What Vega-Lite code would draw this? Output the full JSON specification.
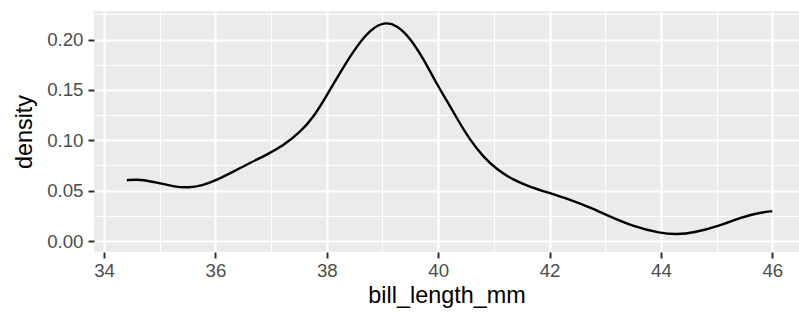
{
  "$schema": "https://vega.github.io/schema/vega-lite/v6.json",
  "autosize": {"type": "none"},
  "width": 705,
  "height": 241,
  "padding": {"left": 94, "top": 11, "right": 0, "bottom": 60},
  "background": "white",
  "config": {
    "view": {"fill": "#EBEBEB", "stroke": null},
    "font": "Liberation Sans",
    "axis": {
      "domain": false,
      "gridColor": "white",
      "tickColor": "#333333",
      "tickWidth": 2,
      "tickSize": 6,
      "labelColor": "#4D4D4D",
      "labelFontSize": 18.7,
      "labelFont": "Liberation Sans",
      "titleFont": "Liberation Sans",
      "titleFontSize": 23.4,
      "titleFontWeight": "normal",
      "titleColor": "black"
    }
  },
  "data": {
    "values": [
      {"bill_length_mm": 34.41, "density": 0.0604},
      {"bill_length_mm": 34.65, "density": 0.0613},
      {"bill_length_mm": 34.95, "density": 0.0582},
      {"bill_length_mm": 35.24, "density": 0.0541},
      {"bill_length_mm": 35.52, "density": 0.0528},
      {"bill_length_mm": 35.76, "density": 0.0550},
      {"bill_length_mm": 36.02, "density": 0.0605},
      {"bill_length_mm": 36.32, "density": 0.0688},
      {"bill_length_mm": 36.62, "density": 0.0776},
      {"bill_length_mm": 36.92, "density": 0.0856},
      {"bill_length_mm": 37.22, "density": 0.0948},
      {"bill_length_mm": 37.50, "density": 0.1070},
      {"bill_length_mm": 37.76, "density": 0.1225},
      {"bill_length_mm": 38.02, "density": 0.1465},
      {"bill_length_mm": 38.30, "density": 0.1730},
      {"bill_length_mm": 38.54, "density": 0.1935},
      {"bill_length_mm": 38.78, "density": 0.2098},
      {"bill_length_mm": 39.03, "density": 0.2177},
      {"bill_length_mm": 39.26, "density": 0.2145},
      {"bill_length_mm": 39.50, "density": 0.2015},
      {"bill_length_mm": 39.74, "density": 0.1805},
      {"bill_length_mm": 39.98, "density": 0.1555},
      {"bill_length_mm": 40.16, "density": 0.1390},
      {"bill_length_mm": 40.34, "density": 0.1215},
      {"bill_length_mm": 40.57, "density": 0.1005},
      {"bill_length_mm": 40.81, "density": 0.0835},
      {"bill_length_mm": 41.05, "density": 0.0712},
      {"bill_length_mm": 41.35, "density": 0.0605},
      {"bill_length_mm": 41.65, "density": 0.0538},
      {"bill_length_mm": 42.01, "density": 0.0475},
      {"bill_length_mm": 42.37, "density": 0.0410},
      {"bill_length_mm": 42.72, "density": 0.0335},
      {"bill_length_mm": 43.05, "density": 0.0252},
      {"bill_length_mm": 43.51, "density": 0.0143},
      {"bill_length_mm": 43.99, "density": 0.0077},
      {"bill_length_mm": 44.29, "density": 0.0065},
      {"bill_length_mm": 44.59, "density": 0.0083},
      {"bill_length_mm": 45.01, "density": 0.0143},
      {"bill_length_mm": 45.43, "density": 0.0233},
      {"bill_length_mm": 45.79, "density": 0.0285},
      {"bill_length_mm": 46.00, "density": 0.0296}
    ]
  },
  "layer": [
    {
      "mark": {"type": "line", "strokeOpacity": 0},
      "encoding": {
        "x": {
          "field": "bill_length_mm", "type": "quantitative",
          "scale": {"domain": [33.82, 46.48], "nice": false, "zero": false},
          "axis": {"orient": "top", "values": [35, 37, 39, 41, 43, 45], "labels": false, "ticks": false, "title": null, "grid": true, "gridWidth": 1.1}
        },
        "y": {
          "field": "density", "type": "quantitative",
          "scale": {"domain": [-0.0109, 0.2284], "nice": false, "zero": false},
          "axis": {"orient": "right", "values": [0.025, 0.075, 0.125, 0.175, 0.225], "labels": false, "ticks": false, "title": null, "grid": true, "gridWidth": 1.1}
        }
      }
    },
    {
      "mark": {"type": "line", "color": "black", "strokeWidth": 2.4, "interpolate": "basis", "clip": true},
      "encoding": {
        "x": {
          "field": "bill_length_mm", "type": "quantitative",
          "axis": {"orient": "bottom", "values": [34, 36, 38, 40, 42, 44, 46], "format": "d", "grid": true, "gridWidth": 2.2, "labelPadding": 3, "titlePadding": 5, "title": "bill_length_mm"}
        },
        "y": {
          "field": "density", "type": "quantitative",
          "axis": {"orient": "left", "values": [0, 0.05, 0.1, 0.15, 0.2], "format": ".2f", "grid": true, "gridWidth": 2.2, "labelPadding": 5, "titlePadding": 10, "title": "density"}
        }
      }
    }
  ],
  "resolve": {"axis": {"x": "independent", "y": "independent"}}
}
